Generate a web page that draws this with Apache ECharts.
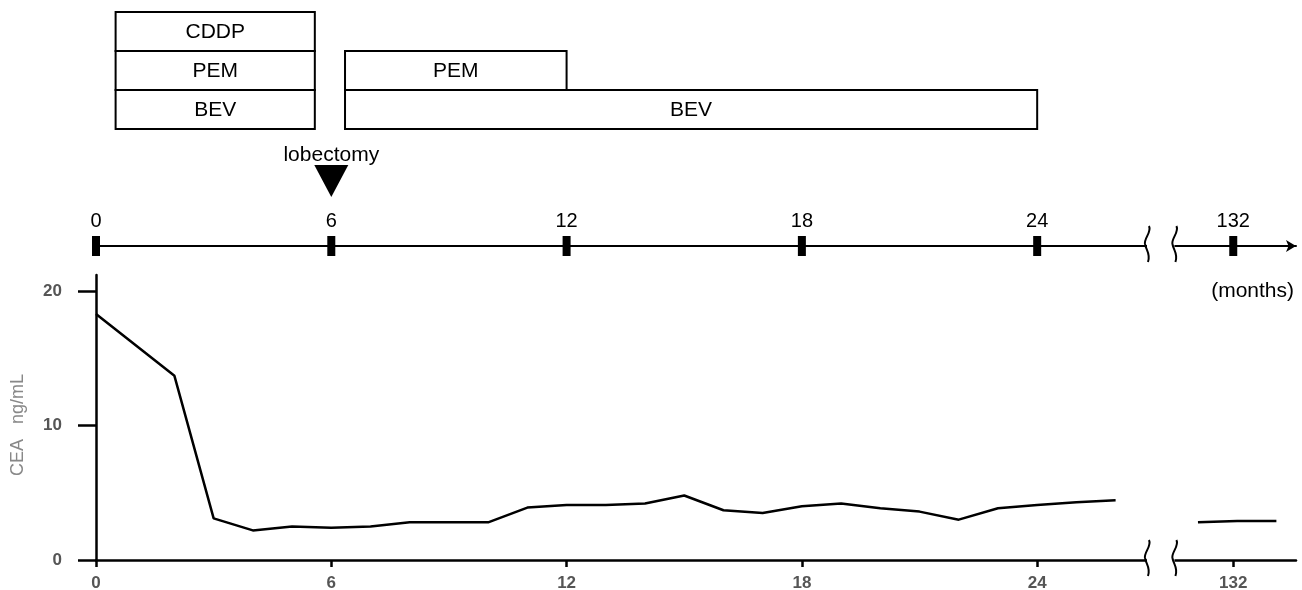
<!DOCTYPE html>
<html><head><meta charset="utf-8">
<script src="https://cdn.jsdelivr.net/npm/echarts@6/dist/echarts.min.js"></script>
<style>html,body{margin:0;padding:0;background:#fff}#c{width:1302px;height:590px}</style>
</head><body><div id="c"></div>
<script>
// ---- data ----
const monthsEarly = [0,2,3,4,5,6,7,8,9,10,11,12,13,14,15,16,17,18,19,20,21,22,23,24,25,26];
const ceaEarly    = [18.3,13.7,3.1,2.2,2.5,2.4,2.5,2.8,2.8,2.8,3.9,4.1,4.1,4.2,4.8,3.7,3.5,4.0,4.2,3.85,3.6,3.0,3.85,4.1,4.3,4.45];
const monthsLate  = [131.1,132.1,133.1];
const ceaLate     = [2.8,2.9,2.9];
const tickMonths  = [0,6,12,18,24,132];
const yTicks      = [0,10,20];
const boxLabels   = ['CDDP','PEM','BEV','PEM','BEV'];
const boxRows     = [0,1,2,1,2];
const boxStart    = [0.5,0.5,0.5,6.35,6.35];
const boxEnd      = [5.58,5.58,5.58,12,24];
const lobectomyMonth = 6;
const breakFrom = 26.8, breakTo = 130.5;   // months hidden by the axis break

// ---- layout helpers ----
const breakGap = 0.7;
function disp(m){ return m <= breakFrom ? m : m - breakTo + breakFrom + breakGap; }
function undisp(v){ return v > breakFrom + breakGap/2 ? Math.round(v + breakTo - breakFrom - breakGap) : Math.round(v); }
const XMAX = 30.6;
const FONT = '"Liberation Sans", Arial, sans-serif';

const chart = echarts.init(document.getElementById('c'));
const gridBase = {left:96, width:1200, outerBoundsMode:'none', containLabel:false};
const option = {
  animation:false,
  backgroundColor:'#fff',
  grid:[
    Object.assign({top:12, height:117}, gridBase),
    Object.assign({top:146, height:100}, gridBase),
    Object.assign({top:275, height:285}, gridBase)
  ],
  xAxis:[
    {gridIndex:0, type:'value', min:0, max:XMAX, show:false},
    {gridIndex:1, type:'value', min:0, max:XMAX,
      axisLine:{show:true, lineStyle:{color:'#000', width:2}, symbol:['none','arrow'], symbolSize:[9,10]},
      axisTick:{show:false}, axisLabel:{show:false}, splitLine:{show:false}},
    {gridIndex:2, type:'value', min:0, max:XMAX,
      axisLine:{show:true, onZero:false, lineStyle:{color:'#000', width:2.5}},
      axisTick:{show:true, length:7, lineStyle:{color:'#000', width:2.5}, customValues:tickMonths.map(disp)},
      axisLabel:{show:true, customValues:tickMonths.map(disp), formatter:v=>String(undisp(v)),
        color:'#555', fontWeight:'bold', fontSize:17, fontFamily:FONT, margin:15},
      splitLine:{show:false}}
  ],
  yAxis:[
    {gridIndex:0, type:'value', min:0, max:3, inverse:true, show:false},
    {gridIndex:1, type:'value', min:0, max:10, show:false},
    {gridIndex:2, type:'value', min:0, max:21.2, interval:10,
      axisLine:{show:true, lineStyle:{color:'#000', width:2.5}},
      axisTick:{show:true, length:18, lineStyle:{color:'#000', width:2.5}, customValues:yTicks},
      axisLabel:{show:true, customValues:yTicks, color:'#555', fontWeight:'bold', fontSize:17, fontFamily:FONT, margin:34},
      splitLine:{show:false},
      name:'CEA   ng/mL   ', nameLocation:'middle', nameGap:69,
      nameTextStyle:{color:'#888', fontSize:18, fontFamily:FONT}}
  ],
  series:[
    {type:'custom', xAxisIndex:0, yAxisIndex:0, silent:true,
      data: boxLabels.map((l,i)=>[boxStart[i], boxEnd[i], boxRows[i]]),
      renderItem:function(params, api){
        const s = api.coord([api.value(0), api.value(2)]);
        const e = api.coord([api.value(1), api.value(2)+1]);
        return {type:'group', children:[
          {type:'rect', shape:{x:s[0], y:s[1], width:e[0]-s[0], height:e[1]-s[1]},
            style:{fill:'#fff', stroke:'#000', lineWidth:2}},
          {type:'text', style:{text:boxLabels[params.dataIndex], x:(s[0]+e[0])/2, y:(s[1]+e[1])/2+1,
            align:'center', verticalAlign:'middle', font:'21px '+FONT, fill:'#000'}}
        ]};
      }},
    {type:'scatter', xAxisIndex:1, yAxisIndex:1, silent:true, clip:false,
      data: tickMonths.map(m=>[disp(m), 0, m]),
      symbol:'rect', symbolSize:[8,20], itemStyle:{color:'#000', opacity:1},
      label:{show:true, position:'top', distance:5, formatter:p=>String(p.data[2]),
        color:'#000', fontSize:20, fontFamily:FONT}},
    {type:'scatter', xAxisIndex:1, yAxisIndex:1, silent:true, clip:false,
      data:[[disp(lobectomyMonth), 6.5]],
      symbol:'triangle', symbolRotate:180, symbolSize:[34,32], itemStyle:{color:'#000', opacity:1}},
    {type:'scatter', xAxisIndex:1, yAxisIndex:1, silent:true, clip:false,
      data:[[disp(lobectomyMonth), 9.1]], symbolSize:1, itemStyle:{color:'rgba(255,255,255,0)', opacity:1},
      label:{show:true, position:'inside', formatter:'lobectomy', color:'#000', opacity:1, fontSize:21, fontFamily:FONT}},
    {type:'line', xAxisIndex:2, yAxisIndex:2, silent:true, symbol:'none',
      data: monthsEarly.map((m,i)=>[disp(m), ceaEarly[i]]),
      lineStyle:{color:'#000', width:2.5}},
    {type:'line', xAxisIndex:2, yAxisIndex:2, silent:true, symbol:'none',
      data: monthsLate.map((m,i)=>[disp(m), ceaLate[i]]),
      lineStyle:{color:'#000', width:2.5}}
  ]
};
chart.setOption(option);

// break marks
function brace(x, ym){
  return [
    {type:'bezierCurve', z:100, shape:{x1:x+2, y1:ym-18, cpx1:x+5, cpy1:ym-12, cpx2:x-3, cpy2:ym-6, x2:x-2, y2:ym},
      style:{stroke:'#000', lineWidth:2, fill:null}},
    {type:'bezierCurve', z:100, shape:{x1:x-2, y1:ym, cpx1:x-1, cpy1:ym+6, cpx2:x+4, cpy2:ym+10, x2:x+1, y2:ym+18},
      style:{stroke:'#000', lineWidth:2, fill:null}}
  ];
}
const g = [];
[[1,1],[2,2]].forEach(([xi, yi])=>{
  const a = chart.convertToPixel({xAxisIndex:xi, yAxisIndex:yi}, [breakFrom, 0]);
  const b = chart.convertToPixel({xAxisIndex:xi, yAxisIndex:yi}, [breakFrom + breakGap, 0]);
  g.push({type:'rect', z:99, shape:{x:a[0], y:a[1]-5, width:b[0]-a[0], height:10}, style:{fill:'#fff'}});
  g.push(...brace(a[0], a[1]-2));
  g.push(...brace(b[0], a[1]-2));
});
g.push({type:'text', z:100, style:{text:'(months)', x:1294, y:291, align:'right', verticalAlign:'middle',
  font:'21px '+FONT, fill:'#000'}});
chart.setOption({graphic:g});
</script>
</body></html>
